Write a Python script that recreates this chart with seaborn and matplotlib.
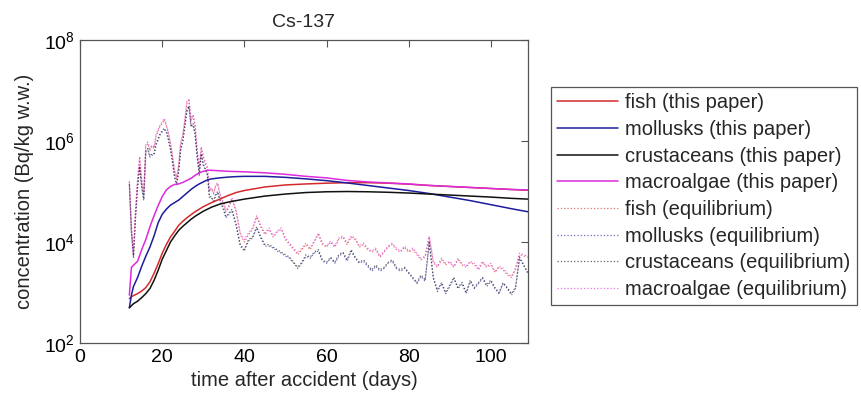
import numpy as np
import matplotlib
matplotlib.use('Agg')
import matplotlib.pyplot as plt
import seaborn as sns

# model results (this paper), log10 of Bq/kg w.w.
model_days = [12, 12.5, 13, 14, 15, 16, 17, 18, 19, 20, 21, 22, 23, 24, 25, 26, 27, 28, 29, 30,
              31, 32, 34, 36, 38, 40, 45, 50, 55, 60, 65, 70, 75, 80, 85, 90, 95, 100, 105, 109]
fish_model = [2.88, 2.92, 2.94, 2.98, 3.03, 3.10, 3.21, 3.38, 3.57, 3.78, 3.95, 4.10, 4.21, 4.33, 4.41,
              4.48, 4.54, 4.60, 4.65, 4.70, 4.74, 4.78, 4.85, 4.92, 4.98, 5.02, 5.09, 5.13, 5.15, 5.165,
              5.175, 5.175, 5.165, 5.145, 5.12, 5.10, 5.08, 5.06, 5.04, 5.025]
mollusks_model = [2.70, 2.95, 3.12, 3.30, 3.52, 3.72, 3.90, 4.12, 4.38, 4.55, 4.65, 4.73, 4.78, 4.83, 4.90,
                  4.97, 5.04, 5.10, 5.15, 5.19, 5.23, 5.25, 5.27, 5.285, 5.295, 5.30, 5.30, 5.28, 5.25, 5.215,
                  5.17, 5.12, 5.07, 5.02, 4.96, 4.89, 4.82, 4.74, 4.66, 4.60]
crustaceans_model = [2.70, 2.74, 2.78, 2.83, 2.90, 2.98, 3.08, 3.24, 3.44, 3.66, 3.83, 4.00, 4.12, 4.23, 4.31,
                     4.38, 4.45, 4.51, 4.56, 4.61, 4.65, 4.69, 4.75, 4.79, 4.82, 4.85, 4.91, 4.95, 4.98, 4.995,
                     5.0, 4.995, 4.985, 4.97, 4.95, 4.93, 4.91, 4.89, 4.865, 4.85]
macroalgae_model = [2.95, 3.50, 3.54, 3.62, 3.85, 4.05, 4.30, 4.52, 4.72, 4.90, 5.03, 5.10, 5.14, 5.15, 5.18,
                    5.22, 5.26, 5.32, 5.37, 5.40, 5.42, 5.42, 5.41, 5.40, 5.395, 5.39, 5.37, 5.34, 5.30, 5.27,
                    5.22, 5.19, 5.17, 5.15, 5.12, 5.10, 5.08, 5.06, 5.04, 5.03]

# equilibrium approach, log10 of Bq/kg w.w.
eq_days = [12, 12.5, 13, 13.5, 14, 14.5, 15, 15.5, 16, 16.5, 17, 17.5,
           18, 18.5, 19, 19.5, 20, 20.5, 21, 21.5, 22, 22.5, 23, 23.5,
           24, 24.5, 25, 25.5, 26, 26.5, 27, 27.5, 28, 28.5, 29, 29.5,
           30, 30.5, 31, 31.5, 32, 32.5, 33, 33.5, 34, 34.5, 35, 35.5, 36,
           37, 38, 39, 40, 41, 42, 43, 44, 45, 46, 47, 48,
           49, 50, 51, 52, 53, 54, 55, 56, 57, 58, 59, 60,
           61, 62, 63, 64, 65, 66, 67, 68, 69, 70, 71, 72,
           73, 74, 75, 76, 77, 78, 79, 80, 81, 82, 83, 84,
           85, 86, 87, 88, 89, 90, 91, 92, 93, 94, 95, 96,
           97, 98, 99, 100, 101, 102, 103, 104, 105, 106, 107, 109]
fish_eq = [5.20, 4.30, 3.75, 4.60, 5.20, 5.65, 5.20, 4.95, 5.90, 5.95, 5.80, 5.90,
           5.85, 6.10, 6.20, 6.30, 6.35, 6.42, 6.30, 6.15, 5.95, 5.70, 5.40, 5.25,
           5.50, 5.95, 6.10, 6.40, 6.75, 6.80, 6.40, 6.50, 6.30, 5.80, 5.45, 5.85,
           5.67, 5.55, 5.45, 5.00, 5.05, 4.95, 5.10, 5.15, 4.95, 4.82, 4.75, 4.60, 4.65,
           4.85, 4.60, 4.15, 4.00, 4.15, 4.25, 4.50, 4.30, 4.15, 4.25, 4.10, 4.20,
           4.25, 4.05, 3.95, 3.85, 3.75, 3.85, 3.95, 3.85, 4.00, 4.15, 3.95, 3.90,
           4.00, 3.90, 4.05, 4.10, 3.95, 4.10, 4.05, 3.90, 3.95, 3.85, 3.80, 3.85,
           3.70, 3.80, 3.90, 3.95, 3.85, 3.80, 3.90, 3.80, 3.85, 3.75, 3.65, 3.70,
           4.10, 3.60, 3.50, 3.65, 3.55, 3.60, 3.50, 3.65, 3.55, 3.50, 3.60, 3.55,
           3.45, 3.60, 3.50, 3.55, 3.40, 3.50, 3.45, 3.35, 3.30, 3.45, 3.75, 3.70]
mollusks_eq = [5.12, 4.18, 3.72, 4.48, 5.08, 5.48, 5.08, 4.82, 5.78, 5.82, 5.68, 5.72,
               5.72, 5.92, 6.02, 6.12, 6.18, 6.22, 6.18, 6.02, 5.82, 5.58, 5.28, 5.12,
               5.38, 5.82, 5.98, 6.28, 6.58, 6.68, 6.28, 6.32, 6.12, 5.68, 5.32, 5.72,
               5.52, 5.42, 5.32, 4.88, 4.88, 4.78, 4.92, 4.98, 4.82, 4.72, 4.62, 4.48, 4.52,
               4.62, 4.32, 3.92, 3.82, 4.02, 4.08, 4.28, 4.08, 3.92, 3.92, 3.88, 3.82,
               3.78, 3.72, 3.68, 3.58, 3.48, 3.58, 3.72, 3.68, 3.78, 3.82, 3.62, 3.58,
               3.68, 3.58, 3.72, 3.78, 3.62, 3.82, 3.68, 3.58, 3.62, 3.52, 3.42, 3.52,
               3.42, 3.48, 3.58, 3.62, 3.48, 3.42, 3.48, 3.38, 3.28, 3.18, 3.32, 3.22,
               3.98, 3.28, 3.02, 3.18, 2.98, 3.12, 3.28, 3.08, 3.18, 2.98, 3.22, 3.08,
               3.18, 3.28, 3.12, 3.22, 3.08, 2.98, 3.18, 3.08, 2.95, 3.08, 3.68, 3.38]
crustaceans_eq = [5.15, 4.20, 3.70, 4.50, 5.10, 5.50, 5.10, 4.85, 5.80, 5.85, 5.70, 5.75,
                  5.75, 5.95, 6.05, 6.15, 6.20, 6.25, 6.20, 6.05, 5.85, 5.60, 5.30, 5.15,
                  5.40, 5.85, 6.00, 6.30, 6.60, 6.70, 6.30, 6.35, 6.15, 5.70, 5.35, 5.75,
                  5.55, 5.45, 5.35, 4.90, 4.90, 4.80, 4.95, 5.00, 4.85, 4.75, 4.65, 4.50, 4.55,
                  4.65, 4.35, 3.95, 3.85, 4.05, 4.10, 4.30, 4.10, 3.95, 3.95, 3.90, 3.85,
                  3.80, 3.75, 3.70, 3.60, 3.50, 3.60, 3.75, 3.70, 3.80, 3.85, 3.65, 3.60,
                  3.70, 3.60, 3.75, 3.80, 3.65, 3.85, 3.70, 3.60, 3.65, 3.55, 3.45, 3.55,
                  3.45, 3.50, 3.60, 3.65, 3.50, 3.45, 3.50, 3.40, 3.30, 3.20, 3.35, 3.25,
                  4.00, 3.30, 3.05, 3.20, 3.00, 3.15, 3.30, 3.10, 3.20, 3.00, 3.25, 3.10,
                  3.20, 3.30, 3.15, 3.25, 3.10, 3.00, 3.20, 3.10, 2.98, 3.10, 3.70, 3.40]
macroalgae_eq = [5.18, 4.25, 3.78, 4.65, 5.25, 5.70, 5.25, 4.98, 5.92, 5.98, 5.85, 5.92,
                 5.88, 6.12, 6.22, 6.32, 6.38, 6.45, 6.32, 6.18, 5.98, 5.72, 5.42, 5.28,
                 5.52, 5.98, 6.12, 6.42, 6.78, 6.82, 6.42, 6.52, 6.32, 5.82, 5.48, 5.88,
                 5.70, 5.58, 5.48, 5.02, 5.08, 4.98, 5.12, 5.18, 4.98, 4.85, 4.78, 4.62, 4.68,
                 4.88, 4.62, 4.18, 4.05, 4.18, 4.28, 4.52, 4.32, 4.18, 4.28, 4.12, 4.22,
                 4.28, 4.08, 3.98, 3.88, 3.78, 3.88, 3.98, 3.88, 4.02, 4.18, 3.98, 3.92,
                 4.02, 3.92, 4.08, 4.12, 3.98, 4.12, 4.08, 3.92, 3.98, 3.88, 3.82, 3.88,
                 3.72, 3.82, 3.92, 3.98, 3.88, 3.82, 3.92, 3.82, 3.88, 3.78, 3.68, 3.72,
                 4.12, 3.62, 3.52, 3.68, 3.58, 3.62, 3.52, 3.68, 3.58, 3.52, 3.62, 3.58,
                 3.48, 3.62, 3.52, 3.58, 3.42, 3.52, 3.48, 3.38, 3.32, 3.48, 3.78, 3.72]

sns.set_style('white')
plt.rcParams['font.family'] = ['Liberation Sans', 'DejaVu Sans']
plt.rcParams['mathtext.default'] = 'regular'

fig = plt.figure(figsize=(8.61, 3.99), dpi=100)
ax = fig.add_axes([0.093, 0.140, 0.520, 0.760])

red, blue, black, magenta = '#d42a2a', '#1c1c9c', '#111111', '#dc2adc'

# equilibrium curves (dotted), drawn first
eq_series = [
    (fish_eq, red, 'fish (equilibrium)'),
    (mollusks_eq, blue, 'mollusks (equilibrium)'),
    (crustaceans_eq, black, 'crustaceans (equilibrium)'),
    (macroalgae_eq, magenta, 'macroalgae (equilibrium)'),
]
model_series = [
    (fish_model, red, 'fish (this paper)'),
    (mollusks_model, blue, 'mollusks (this paper)'),
    (crustaceans_model, black, 'crustaceans (this paper)'),
    (macroalgae_model, magenta, 'macroalgae (this paper)'),
]

for vals, col, lab in eq_series:
    sns.lineplot(x=eq_days, y=10 ** np.array(vals), ax=ax, color=col, linestyle=':',
                 linewidth=0.9, alpha=0.65, label=lab, zorder=2)
for vals, col, lab in model_series:
    sns.lineplot(x=model_days, y=10 ** np.array(vals), ax=ax, color=col, linestyle='-',
                 linewidth=1.1, label=lab, zorder=3)

ax.set_yscale('log')
ax.set_xlim(0, 109)
ax.set_ylim(1e2, 1e8)
ax.set_xticks([0, 20, 40, 60, 80, 100])
ax.set_yticks([1e2, 1e4, 1e6, 1e8])
ax.minorticks_off()
ax.tick_params(direction='in', top=True, right=True, length=5, width=0.8,
               colors='#555555', labelcolor='black', labelsize=14, pad=4)
for sp in ax.spines.values():
    sp.set_color('#555555')
    sp.set_linewidth(0.9)

ax.set_xlabel('time after accident (days)', fontsize=14.5, labelpad=4)
ax.set_ylabel('concentration (Bq/kg w.w.)', fontsize=14.5, labelpad=7)
ax.set_title('Cs-137', fontsize=14, pad=9)

handles, labels = ax.get_legend_handles_labels()
order = [labels.index(l) for l in [s[2] for s in model_series] + [s[2] for s in eq_series]]
leg = ax.legend([handles[i] for i in order], [labels[i] for i in order],
                loc='upper left', bbox_to_anchor=(551 / 861, 1 - 87 / 399),
                bbox_transform=fig.transFigure, fontsize=14.5, frameon=True,
                fancybox=False, framealpha=1, edgecolor='#555555', borderaxespad=0,
                handlelength=3.0, handletextpad=0.35, labelspacing=0.38, borderpad=0.32)
leg.get_frame().set_linewidth(0.9)

fig.savefig('out.png', dpi=100)
